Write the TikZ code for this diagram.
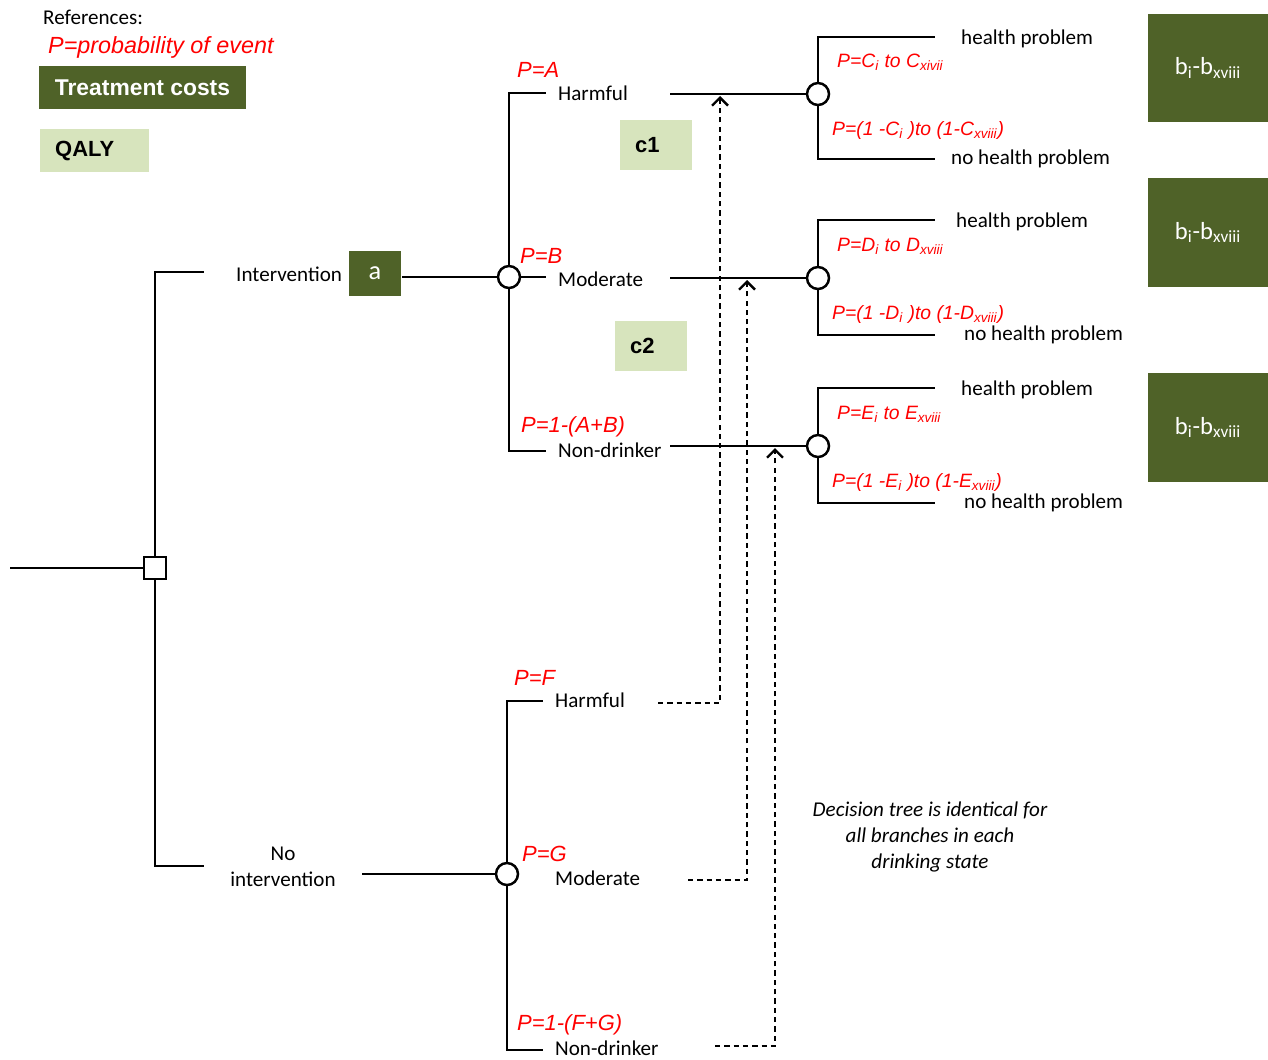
\documentclass[tikz,border=0pt]{standalone}
\usepackage{fontspec}
\setmainfont{Carlito}
\newfontfamily\arialfont{Liberation Sans}
\usetikzlibrary{positioning, calc, arrows.meta}
\definecolor{olivedark}{HTML}{4F6228}
\definecolor{olivelight}{HTML}{D7E4BD}

\begin{document}
\begin{tikzpicture}[x = 0.02cm, y = -0.02cm, line width = 1.4pt]
\useasboundingbox (0, 0) rectangle (1268, 1059);
\begin{scope}[
	chance/.style={circle, draw, fill=white, minimum size=0.44cm, inner sep=0},
	choice/.style={rectangle, draw, fill=white, minimum size=0.44cm, inner sep=0},
	lbl/.style={font=\fontsize{12}{14.7}\selectfont, inner sep=0, anchor=west},
	prob/.style={font=\arialfont\itshape\fontsize{12.5}{15}\selectfont, text=red, inner sep=0, anchor=west},
	subprob/.style={font=\arialfont\itshape\fontsize{11}{13}\selectfont, text=red, inner sep=0, anchor=west},
	costbox/.style={fill=olivedark, text=white, inner sep=0},
	qalybox/.style={fill=olivelight, inner sep=0, inner xsep=0.3cm, align=left,
		font=\arialfont\bfseries\fontsize{12.5}{15}\selectfont},
	fb/.style={dash pattern=on 3pt off 2.3pt, -{Straight Barb[length=4.5pt, width=9pt]}}
]
% legend
\node[lbl] (refs) at (42, 17) {References:};
\node[prob, font=\arialfont\itshape\fontsize{13.3}{15}\selectfont] (pdef) at (47, 47) {P=probability of event};
\node[costbox, minimum width=4.14cm, minimum height=0.86cm,
	font=\arialfont\bfseries\fontsize{13}{15}\selectfont] (costs) at (142.5, 87.5) {Treatment costs};
\node[qalybox, anchor=west, text width=1.58cm, minimum height=0.86cm] (qaly) at (39, 150.5) {QALY};

% decision node
\coordinate (start) at (10, 568);
\node[choice] (root) at (155, 568) {};
\coordinate (int-hook) at (204, 272);
\coordinate (noint-hook) at (204, 866);
\draw (start) -- (root);
\draw (root.north) |- (int-hook);
\draw (root.south) |- (noint-hook);

% intervention arm
\node[lbl] (intv) at (235, 274) {Intervention};
\node[costbox, minimum width=1.04cm, minimum height=0.9cm, font=\fontsize{15}{17}\selectfont] (abox) at (375, 273.5) {a};
\node[chance] (cint) at (509, 277) {};
\draw (abox.east |- cint) -- (cint);
\foreach \st/\y/\ly/\py/\px/\txt/\p in {A/93/93/70/516/Harmful/A, B/277/279/256/519/Moderate/B, N/451/450/427/520/Non-drinker/1-(A+B)} {
	\coordinate (hook-\st) at (546, \y);
	\node[lbl] (lab-\st) at (557, \ly) {\txt};
	\node[prob] (p-\st) at (\px, \py) {P=\p};
}
\draw (cint.north) |- (hook-A);
\draw (cint.east) -- (hook-B);
\draw (cint.south) |- (hook-N);
\node[qalybox, anchor=north west, text width=0.84cm, minimum height=1.0cm] (c1) at (619, 119) {c1};
\node[qalybox, anchor=north west, text width=0.84cm, minimum height=1.0cm] (c2) at (614, 320) {c2};

% health outcomes
\foreach \k/\st/\y/\yt/\yb/\L/\idx/\hx/\nhx/\by in {1/A/94/37/159/C/xivii/960/950/68, 2/B/278/220/335/D/xviii/955/963/232.5, 3/N/446/388/503/E/xviii/960/963/427.5} {
	\node[chance] (o\k) at (818, \y) {};
	\coordinate (line-\k) at (670, \y);
	\draw (line-\k) -- (o\k);
	\coordinate (o\k-top) at (935, \yt);
	\coordinate (o\k-bot) at (935, \yb);
	\draw (o\k.north) |- (o\k-top);
	\draw (o\k.south) |- (o\k-bot);
	\node[lbl] (hp\k) at (\hx, {\yt+2}) {health problem};
	\node[lbl] (nhp\k) at (\nhx, \yb) {no health problem};
	\node[subprob] (pt\k) at (836, {\y-32}) {P=\L\textsubscript{i} to \L\textsubscript{\idx}};
	\node[subprob] (pb\k) at (831, {\y+36}) {P=(1 -\L\textsubscript{i} )to (1-\L\textsubscript{xviii})};
	\node[costbox, minimum width=2.4cm, minimum height=2.18cm, font=\fontsize{14}{16}\selectfont] (b\k) at (1208, \by) {b\textsubscript{i}-b\textsubscript{xviii}};
}

% no intervention arm
\node[lbl, anchor=center, align=center] (nointv) at (283, 867) {No\\intervention};
\coordinate (noint-line) at (362, 874);
\node[chance] (cno) at (507, 874) {};
\draw (noint-line) -- (cno);
\foreach \st/\y/\ly/\py/\px/\txt/\p in {F/701/700/678/513/Harmful/F, G/874/878/854/521/Moderate/G, M/1050/1048/1025/516/Non-drinker/1-(F+G)} {
	\coordinate (hook-\st) at (543, \y);
	\node[lbl] (lab-\st) at (554, \ly) {\txt};
	\node[prob] (p-\st) at (\px, \py) {P=\p};
}
\draw (cno.north) |- (hook-F);
\draw (cno.south) |- (hook-M);

% same tree for each drinking state
\foreach \st/\x/\fx/\fy/\ty in {F/720/658/703/96, G/747/688/880/280, M/775/715/1046/448} {
	\coordinate (from-\st) at (\fx, \fy);
	\coordinate (to-\st) at (\x, \ty);
	\draw[fb] (from-\st) -| (to-\st);
}
\node[lbl, anchor=center, align=center, font=\itshape\fontsize{12}{14.7}\selectfont] (note) at (930, 837)
	{Decision tree is identical for\\all branches in each\\drinking state};
\end{scope}
\end{tikzpicture}
\end{document}
